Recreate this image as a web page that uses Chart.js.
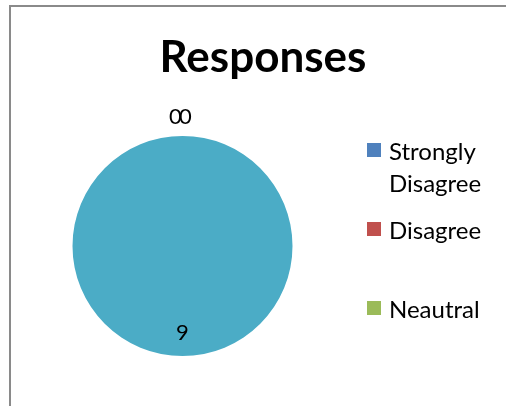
<!DOCTYPE html>
<html lang="en">
<head>
    <meta charset="UTF-8">
    <title>Responses</title>
    <script src="https://cdn.jsdelivr.net/npm/chart.js"></script>
    <style>
        html, body { margin: 0; padding: 0; background: #fff; overflow: hidden; }
        #wrap { position: relative; width: 506px; height: 406px; }
    </style>
</head>
<body>
    <div id="wrap"><canvas id="chart" width="506" height="406"></canvas></div>

    <script>
        const categories = ["Strongly Disagree", "Disagree", "Neautral", "Agree"];
        const responses = [0, 0, null, 9];
        const sliceColors = ["#4F81BD", "#C0504D", "#9BBB59", "#4BACC6"];
        const legendShown = 3; // only the first three fit in the legend box

        const fontFamily = "Lato, 'Open Sans', sans-serif";

        // frame, title, legend and value labels
        const decor = {
            id: "decor",
            beforeDraw(chart) {
                const c = chart.ctx;
                c.save();
                c.strokeStyle = "#8a8a8a";
                c.lineWidth = 2;
                c.strokeRect(10, 6, 520, 420);
                c.restore();
            },
            afterDraw(chart) {
                const c = chart.ctx;
                c.save();
                c.fillStyle = "#000";
                c.textAlign = "center";
                c.textBaseline = "alphabetic";
                c.font = "bold 44px " + fontFamily;
                c.fillText("Responses", 263, 72);

                // legend
                c.textAlign = "left";
                c.font = "24px " + fontFamily;
                const lines = [["Strongly", "Disagree"], ["Disagree"], ["Neautral"]];
                for (let i = 0; i < legendShown; i++) {
                    const y = 152 + i * 79;
                    c.fillStyle = sliceColors[i];
                    c.fillRect(367, y - 9, 14, 14);
                    c.fillStyle = "#000";
                    lines[i].forEach((t, k) => c.fillText(t, 389, y + 8 + k * 32));
                }

                // value labels
                const meta = chart.getDatasetMeta(0);
                c.textAlign = "center";
                c.textBaseline = "middle";
                c.font = "22px " + fontFamily;
                let zeroIdx = 0;
                meta.data.forEach((arc, i) => {
                    const v = responses[i];
                    if (v === null || v === undefined) return;
                    const p = arc.getProps(["x", "y", "startAngle", "endAngle", "outerRadius"], true);
                    const mid = (p.startAngle + p.endAngle) / 2;
                    let x, y;
                    if (v === 0) {
                        x = p.x + Math.cos(mid) * (p.outerRadius + 19) - 7 + zeroIdx * 10;
                        y = p.y + Math.sin(mid) * (p.outerRadius + 19);
                        zeroIdx++;
                    } else {
                        x = p.x + Math.cos(mid) * p.outerRadius * 0.79;
                        y = p.y + Math.sin(mid) * p.outerRadius * 0.79;
                    }
                    c.fillText(String(v), x, y);
                });
                c.restore();
            }
        };

        new Chart(document.getElementById("chart"), {
            type: "pie",
            data: {
                labels: categories,
                datasets: [{
                    data: responses,
                    backgroundColor: sliceColors,
                    borderWidth: 0
                }]
            },
            options: {
                responsive: false,
                animation: false,
                layout: { padding: { left: 72, right: 213, top: 136, bottom: 50 } },
                plugins: {
                    legend: { display: false },
                    title: { display: false },
                    tooltip: { enabled: false }
                }
            },
            plugins: [decor]
        });
    </script>
</body>
</html>
